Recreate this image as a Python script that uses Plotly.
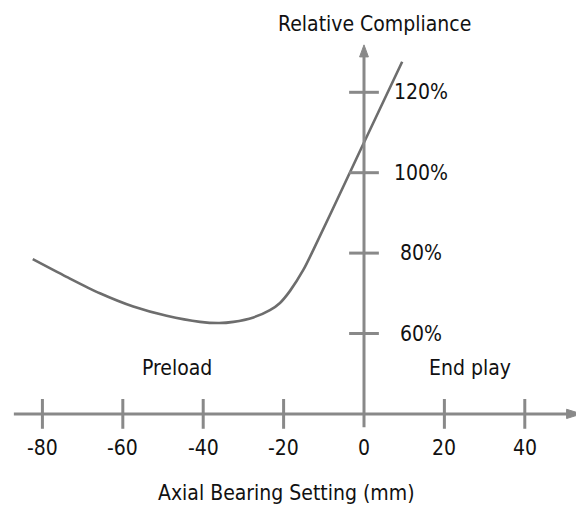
import plotly.graph_objects as go

# ---- data ----
setting_mm = [-82.4, -74.0, -65.7, -57.4, -49.1, -40.8, -36.0, -32.5, -27.5,
              -23.4, -20.9, -18.4, -15.1, -12.6, -4.0, 0.0, 9.5]
compliance_pct = [78.5, 74.1, 70.0, 66.7, 64.4, 62.9, 62.6, 62.9, 64.0,
                  65.8, 67.6, 70.6, 75.8, 80.8, 99.0, 107.5, 127.6]
x_ticks = [-80, -60, -40, -20, 0, 20, 40]
x_tick_labels = ["-80", "-60", "-40", "-20", "0", "20", "40"]
y_ticks = [60, 80, 100, 120]
y_tick_labels = ["60%", "80%", "100%", "120%"]

# ---- styling / layout constants ----
W, H = 576, 499        # page body has an 8px margin
FONT = "Liberation Sans Narrow, DejaVu Sans Condensed, Arial Narrow, sans-serif"
FS = 21
AXIS_COL = "#898989"
CURVE_COL = "#6d6d6d"
X_AXIS_Y = 40          # y value where horizontal axis is drawn
X_RANGE = [-88.56, 54.73]
Y_RANGE = [16.84, 140.97]
TICK_HALF = 3.7

fig = go.Figure()
fig.add_trace(go.Scatter(
    x=setting_mm, y=compliance_pct, mode="lines",
    line=dict(color=CURVE_COL, width=2.6, shape="spline", smoothing=0.8),
    hoverinfo="skip", showlegend=False))

shapes = []
line_style = dict(color=AXIS_COL, width=3)
# horizontal axis
shapes.append(dict(type="line", xref="x", yref="y", x0=-87.1, x1=51.0,
                   y0=X_AXIS_Y, y1=X_AXIS_Y, line=line_style))
shapes.append(dict(type="path", xref="x", yref="y",
                   path=f"M 50.4 {X_AXIS_Y-1.15} L 54.1 {X_AXIS_Y} L 50.4 {X_AXIS_Y+1.15} Z",
                   fillcolor=AXIS_COL, line=dict(color=AXIS_COL, width=1)))
# vertical axis
shapes.append(dict(type="line", xref="x", yref="y", x0=0, x1=0,
                   y0=36.7, y1=129.5, line=line_style))
shapes.append(dict(type="path", xref="x", yref="y",
                   path="M -1.1 128.8 L 0 131.8 L 1.1 128.8 Z",
                   fillcolor=AXIS_COL, line=dict(color=AXIS_COL, width=1)))
# x ticks
for t in x_ticks:
    if t == 0:
        continue
    shapes.append(dict(type="line", xref="x", yref="y", x0=t, x1=t,
                       y0=X_AXIS_Y - TICK_HALF, y1=X_AXIS_Y + TICK_HALF, line=line_style))
# y ticks
for t in y_ticks:
    shapes.append(dict(type="line", xref="x", yref="y", x0=-TICK_HALF, x1=TICK_HALF,
                       y0=t, y1=t, line=line_style))

annotations = []
font = dict(family=FONT, size=FS, color="#111111")
for t, lab in zip(x_ticks, x_tick_labels):
    annotations.append(dict(x=t, y=31.6, xref="x", yref="y", text=lab,
                            showarrow=False, font=font, xanchor="center", yanchor="middle"))
for t, lab in zip(y_ticks, y_tick_labels):
    annotations.append(dict(x=14.2, y=t, xref="x", yref="y", text=lab,
                            showarrow=False, font=font, xanchor="center", yanchor="middle"))
annotations += [
    dict(x=2.7, y=137.0, xref="x", yref="y", text="Relative Compliance",
         showarrow=False, font=font, xanchor="center", yanchor="middle"),
    dict(x=-19.4, y=20.3, xref="x", yref="y", text="Axial Bearing Setting (mm)",
         showarrow=False, font=font, xanchor="center", yanchor="middle"),
    dict(x=-46.5, y=51.4, xref="x", yref="y", text="Preload",
         showarrow=False, font=font, xanchor="center", yanchor="middle"),
    dict(x=26.4, y=51.4, xref="x", yref="y", text="End play",
         showarrow=False, font=font, xanchor="center", yanchor="middle"),
]

fig.update_layout(
    width=W, height=H, margin=dict(l=0, r=0, t=0, b=0),
    paper_bgcolor="white", plot_bgcolor="white",
    xaxis=dict(range=X_RANGE, visible=False, fixedrange=True),
    yaxis=dict(range=Y_RANGE, visible=False, fixedrange=True),
    shapes=shapes, annotations=annotations, showlegend=False,
)
fig.write_html("out.html")
